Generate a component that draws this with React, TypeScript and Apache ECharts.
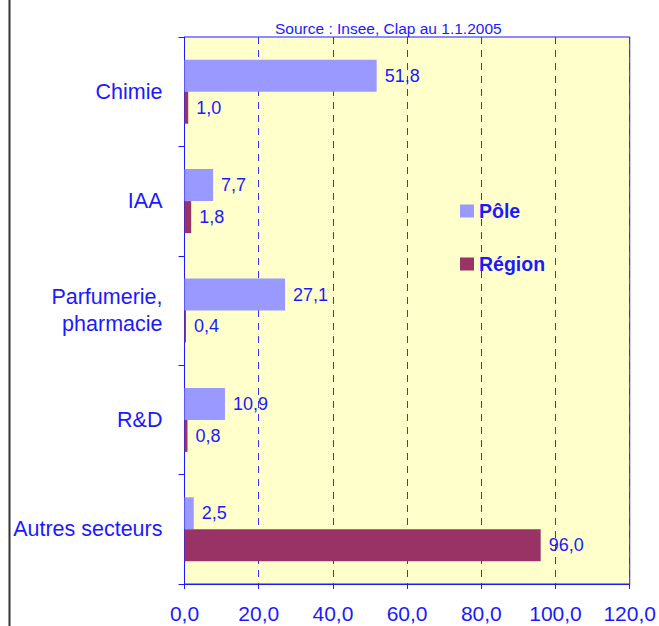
import React, { useEffect, useRef } from "react";
import * as echarts from "echarts";

const categories = ["Chimie", "IAA", "Parfumerie,\npharmacie", "R&D", "Autres secteurs"];
const poleValues = [51.8, 7.7, 27.1, 10.9, 2.5];
const regionValues = [1.0, 1.8, 0.4, 0.8, 96.0];
const seriesNames = ["Pôle", "Région"];
const sourceText = "Source : Insee, Clap au 1.1.2005";

const FONT = "'Liberation Sans', Arial, sans-serif";
const BLUE = "#1a1aff";

const fmt = (v: number) => v.toFixed(1).replace(".", ",");

export default function App() {
  const ref = useRef<HTMLDivElement>(null);
  useEffect(() => {
    document.body.style.margin = "0";
    if (!ref.current) return;
    const chart = echarts.init(ref.current, undefined, { renderer: "svg" });
    const label = {
      show: true,
      position: "right",
      distance: 8,
      color: BLUE,
      fontSize: 18,
      fontFamily: FONT,
      formatter: (p: any) => fmt(p.value),
    };
    chart.setOption({
      animation: false,
      backgroundColor: "#ffffff",
      title: {
        text: sourceText,
        left: 270,
        top: 15,
        textStyle: { color: BLUE, fontSize: 15.5, fontWeight: "normal", fontFamily: FONT },
      },
      legend: {
        orient: "vertical",
        left: 455,
        top: 196,
        itemGap: 33,
        itemWidth: 14,
        itemHeight: 13,
        icon: "rect",
        textStyle: { color: BLUE, fontSize: 19.5, fontWeight: "bold", fontFamily: FONT },
        data: seriesNames,
      },
      grid: {
        left: 184.5,
        right: 24.5,
        top: 37,
        bottom: 42,
        show: true,
        backgroundColor: "#ffffcc",
        borderColor: "#1a1aff",
        borderWidth: 1,
      },
      xAxis: {
        type: "value",
        min: 0,
        max: 120,
        interval: 20,
        axisLine: { show: true, lineStyle: { color: BLUE, width: 1 } },
        axisTick: { show: true, length: 5, lineStyle: { color: BLUE } },
        axisLabel: {
          color: BLUE,
          fontSize: 21,
          fontFamily: FONT,
          margin: 19,
          formatter: (v: number) => fmt(v),
        },
        splitLine: { show: true, lineStyle: { color: "#3333ee", type: [7, 6], width: 1 } },
      },
      yAxis: {
        type: "category",
        data: categories,
        inverse: true,
        axisLine: { show: true, lineStyle: { color: BLUE, width: 1 } },
        axisTick: { show: true, length: 6, lineStyle: { color: BLUE } },
        axisLabel: {
          color: BLUE,
          fontSize: 21.5,
          fontFamily: FONT,
          margin: 22,
          align: "right",
          lineHeight: 27,
        },
      },
      series: [
        {
          name: seriesNames[0],
          type: "bar",
          data: poleValues,
          barGap: "0%",
          barCategoryGap: "41.5%",
          itemStyle: { color: "#9999ff" },
          label,
        },
        {
          name: seriesNames[1],
          type: "bar",
          data: regionValues,
          barGap: "0%",
          barCategoryGap: "41.5%",
          itemStyle: { color: "#993366" },
          label,
        },
      ],
      graphic: [
        {
          type: "line",
          shape: { x1: 9.5, y1: 0, x2: 9.5, y2: 626 },
          style: { stroke: "#333333", lineWidth: 2 },
        },
      ],
    });
    return () => chart.dispose();
  }, []);
  return <div ref={ref} style={{ width: 659, height: 626 }} />;
}
